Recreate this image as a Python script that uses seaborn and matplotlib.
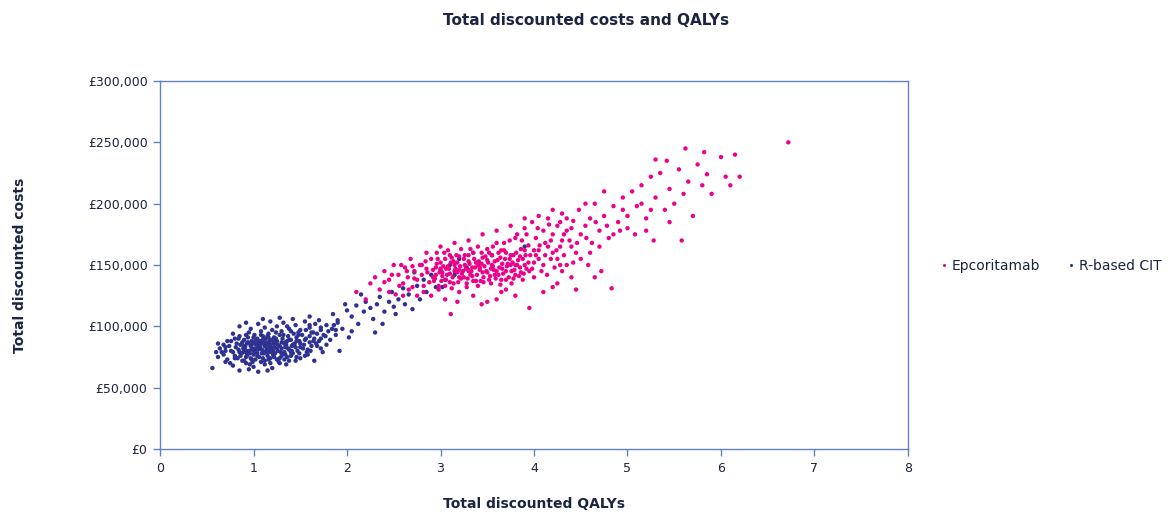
import pandas as pd
import seaborn as sns
import matplotlib.pyplot as plt
from matplotlib.ticker import FuncFormatter

sns.set_theme(style="white")
plt.rcParams['font.family'] = ['DejaVu Sans']

# Values: QALYs and costs (GBP thousands)
rcit_qaly = [
    0.56, 0.78, 0.85, 0.92, 1.00, 1.05, 1.12, 1.20, 1.28, 0.88, 1.35, 0.95, 1.45, 0.70, 1.15,
    0.62, 0.68, 0.72, 0.80, 0.83, 0.87, 0.90, 0.93, 0.97, 1.00, 1.02, 1.06, 1.09, 1.12, 1.15,
    1.18, 1.21, 1.25, 1.30, 1.36, 1.42, 1.50, 1.58, 1.65, 0.75, 0.99, 1.08, 1.27, 1.33, 0.60,
    0.64, 0.70, 0.74, 0.78, 0.81, 0.84, 0.86, 0.89, 0.91, 0.93, 0.95, 0.97, 0.99, 1.01, 1.03,
    1.05, 1.07, 1.09, 1.10, 1.12, 1.14, 1.16, 1.18, 1.20, 1.22, 1.24, 1.26, 1.28, 1.30, 1.33,
    1.35, 1.38, 1.41, 1.44, 1.47, 1.50, 1.54, 1.58, 1.62, 1.67, 1.72, 1.78, 0.88, 1.00, 1.13,
    0.96, 1.04, 1.11, 1.19, 1.23, 1.32, 1.40, 0.82, 0.68, 1.06, 1.16, 1.21, 0.92, 1.02, 1.17,
    0.72, 0.80, 0.85, 0.90, 0.94, 0.98, 1.01, 1.04, 1.07, 1.10, 1.13, 1.16, 1.19, 1.22, 1.25,
    1.28, 1.31, 1.34, 1.37, 1.40, 1.43, 1.46, 1.49, 1.52, 1.56, 1.60, 1.64, 1.68, 1.72, 1.77,
    1.82, 1.88, 0.78, 0.95, 1.08, 1.20, 1.30, 1.06, 1.24, 1.36, 1.15,
    0.85, 0.97, 1.05, 1.12, 1.18, 1.25, 1.32, 1.38, 1.45, 1.50, 1.55, 1.60, 1.66, 1.72, 1.78,
    1.84, 1.90, 1.42, 1.28, 1.60, 1.10, 0.92, 1.70, 1.48, 1.62,
    0.90, 0.94, 0.98, 1.02, 1.06, 1.10, 1.14, 1.18, 1.22, 1.26, 1.30, 1.34, 1.38, 1.42, 1.46,
    1.50, 1.55, 1.60, 1.65, 1.70, 0.85, 0.89, 0.93, 0.97, 1.01, 1.05, 1.09, 1.13, 1.17, 1.21,
    1.25, 1.29, 1.33, 1.37, 1.41, 1.45, 1.49, 1.53, 1.57, 1.61, 0.80, 0.86, 0.92, 0.98, 1.04,
    1.10, 1.16, 1.22, 1.28, 1.34, 1.40, 1.46, 0.76, 0.70, 0.66, 0.62, 0.76, 0.84, 0.92, 1.00,
    1.08, 1.16, 1.24, 1.32, 1.40, 1.48, 1.56, 1.64, 1.72, 1.80, 1.86, 1.75, 1.68, 1.74, 1.55,
    1.38, 1.18, 0.96, 1.60, 1.36,
    1.85, 1.90, 1.95, 2.00, 2.05, 2.10, 2.12, 2.18, 2.20, 2.25, 2.28, 2.32, 2.35, 2.40, 2.45,
    2.48, 2.50, 2.55, 2.60, 2.62, 2.66, 2.70, 2.75, 2.78, 2.82, 2.85, 2.90, 2.95, 3.00, 3.05,
    3.10, 3.15, 3.20, 3.28, 3.35, 3.40, 3.55, 3.90, 2.05, 1.98, 2.15, 2.38, 2.52, 2.72, 3.02,
    1.88, 2.30, 1.92, 2.02,
]
rcit_cost = [
    66, 68, 64, 70, 67, 63, 69, 66, 70, 72, 69, 65, 72, 71, 64,
    75, 77, 73, 76, 74, 78, 72, 76, 74, 77, 73, 75, 78, 72, 76,
    74, 77, 73, 76, 75, 78, 74, 77, 72, 70, 71, 71, 71, 73, 79,
    82, 80, 84, 79, 83, 81, 85, 79, 83, 86, 80, 84, 82, 79, 85,
    81, 83, 86, 80, 84, 82, 79, 85, 81, 83, 86, 80, 84, 82, 79,
    85, 81, 84, 86, 80, 83, 85, 81, 84, 86, 82, 85, 87, 86, 87,
    78, 78, 78, 79, 78, 78, 79, 86, 85, 84, 85, 86, 80, 82, 81,
    88, 90, 92, 89, 91, 88, 93, 90, 88, 92, 90, 94, 89, 91, 88,
    93, 90, 87, 92, 89, 94, 91, 88, 93, 90, 92, 88, 94, 90, 92,
    89, 93, 94, 95, 96, 97, 96, 87, 90, 88, 92,
    100, 98, 102, 99, 104, 100, 103, 98, 101, 97, 104, 99, 102, 97, 101,
    98, 103, 106, 107, 108, 106, 103, 105, 95, 95,
    84, 87, 81, 88, 83, 89, 86, 83, 88, 85, 87, 83, 89, 85, 88,
    86, 89, 87, 90, 88, 79, 82, 78, 85, 80, 86, 81, 79, 88, 80,
    82, 79, 86, 82, 80, 83, 78, 82, 79, 80, 74, 76, 75, 73, 76,
    74, 73, 75, 74, 77, 76, 75, 80, 83, 79, 86, 88, 90, 93, 91,
    93, 91, 95, 93, 96, 93, 97, 95, 99, 96, 101, 93, 84, 79, 76,
    72, 70, 69, 101, 100,
    110, 105, 98, 113, 108, 117, 102, 112, 120, 115, 106, 118, 124, 112, 120,
    128, 116, 122, 131, 118, 126, 114, 133, 122, 138, 128, 142, 132, 146, 138,
    150, 142, 155, 148, 160, 152, 158, 165, 96, 118, 126, 102, 110, 144, 132,
    97, 95, 80, 91,
]

epco_qaly = [
    2.10, 2.20, 2.25, 2.30, 2.35, 2.40, 2.45, 2.50, 2.52, 2.55, 2.60, 2.62, 2.65, 2.68, 2.70,
    2.72, 2.75, 2.78, 2.80, 2.82, 2.85, 2.88, 2.90, 2.92, 2.95, 2.98, 3.00, 3.02, 3.04, 3.06,
    3.08, 3.10, 3.11, 3.12, 3.14, 3.16, 3.18, 3.20, 3.22, 3.24, 3.26, 3.28, 3.30, 3.32, 3.34,
    3.36, 3.38, 3.40, 3.42, 3.44, 3.46, 3.48, 3.50, 3.52, 3.54, 3.56, 3.58, 3.60, 3.62, 3.64,
    3.66, 3.68, 3.70, 3.72, 3.74, 3.76, 3.78, 3.80, 3.82, 3.84, 3.86, 3.88, 3.90, 3.92, 3.94,
    3.96, 3.98, 4.00, 4.02, 4.05, 4.08, 4.10, 4.12, 4.15, 4.18, 4.20, 4.22, 4.25, 4.28, 4.30,
    4.32, 4.35, 4.38, 4.40, 4.42, 4.45, 4.48, 4.50, 4.55, 4.58, 4.60, 4.62, 4.65, 4.70, 4.72,
    4.75, 4.80, 4.83, 4.85, 4.90, 4.95, 5.00, 5.05, 5.08, 5.10, 5.15, 5.20, 5.25, 5.28, 5.30,
    5.35, 5.40, 5.42, 5.45, 5.50, 5.55, 5.60, 5.62, 5.65, 5.70, 5.75, 5.80, 5.85, 5.90, 6.00,
    6.05, 6.10, 6.15, 6.20, 6.72, 5.82, 5.58, 5.30,
    2.92, 2.94, 2.96, 2.99, 3.01, 3.03, 3.05, 3.07, 3.09, 3.11, 3.13, 3.15, 3.17, 3.19, 3.21,
    3.23, 3.25, 3.27, 3.29, 3.31, 3.33, 3.35, 3.37, 3.39, 3.41, 3.43, 3.45, 3.47, 3.49, 3.51,
    3.53, 3.55, 3.57, 3.59, 3.61, 3.63, 3.65, 3.67, 3.69, 3.71, 3.73, 3.75, 3.77, 3.79, 3.81,
    3.83, 3.85, 3.87, 3.89, 3.91,
    2.95, 3.00, 3.05, 3.10, 3.15, 3.20, 3.25, 3.30, 3.35, 3.40, 3.45, 3.50, 3.55, 3.60, 3.65,
    3.70, 3.75, 3.80, 3.85, 3.90, 3.95, 4.00, 4.05, 4.10, 4.15, 4.20, 4.25, 4.30, 4.35, 4.40,
    2.60, 2.75, 2.90, 3.05, 3.20, 3.35, 3.50, 3.65, 3.80, 3.95, 4.10, 4.25, 4.45, 4.65, 2.45,
    2.85, 3.00, 3.15, 3.30, 3.45, 3.60, 3.75, 3.90, 4.05, 4.20, 4.35, 4.55, 4.75, 4.95, 5.15,
    5.45, 5.25, 4.85, 4.60, 4.50, 4.30, 4.40, 4.70, 5.00, 5.20,
    2.40, 2.48, 2.56, 2.64, 2.72, 2.80, 2.86, 2.93, 2.97, 3.02, 3.06, 3.10, 3.14, 3.18, 3.22,
    3.26, 3.30, 3.34, 3.38, 3.42, 3.46, 3.50, 3.54, 3.58, 3.62, 3.66, 3.70, 3.74, 3.78, 3.82,
    3.86, 3.90, 3.94, 3.98, 4.02, 4.06, 4.12, 4.18, 4.24, 4.32, 2.58, 2.70, 2.84, 2.96, 3.08,
    3.20, 3.32, 3.44, 3.56, 3.68, 3.80, 3.92, 4.04, 4.16, 4.28, 4.46, 4.56, 4.66, 4.78, 4.92,
    2.66, 2.82, 2.98, 3.12, 3.28, 3.40, 3.52, 3.64, 3.76, 3.88, 4.00, 4.14, 4.28, 4.42, 3.18,
    3.44, 3.70, 3.60, 4.20, 3.30,
]
epco_cost = [
    128, 122, 135, 140, 130, 145, 138, 150, 126, 142, 135, 148, 140, 155, 132,
    145, 138, 150, 142, 128, 147, 136, 155, 140, 148, 133, 152, 144, 160, 138,
    149, 143, 110, 156, 135, 147, 152, 140, 163, 145, 150, 132, 158, 142, 148,
    155, 137, 165, 146, 151, 140, 157, 144, 160, 135, 149, 153, 168, 142, 156,
    147, 162, 138, 151, 170, 145, 158, 150, 175, 141, 163, 155, 180, 147, 166,
    158, 185, 152, 172, 162, 145, 178, 168, 188, 155, 175, 148, 182, 165, 192,
    158, 178, 170, 140, 186, 160, 195, 175, 182, 150, 188, 168, 200, 178, 145,
    190, 172, 131, 198, 185, 205, 190, 210, 175, 198, 215, 188, 222, 170, 205,
    225, 195, 235, 212, 200, 228, 208, 245, 218, 190, 232, 215, 224, 208, 238,
    222, 215, 240, 222, 250, 242, 170, 236,
    146, 139, 151, 144, 137, 149, 155, 142, 147, 152, 140, 145, 158, 136, 149,
    143, 155, 147, 139, 151, 145, 160, 148, 142, 153, 137, 156, 149, 145, 152,
    141, 158, 146, 139, 154, 148, 162, 143, 155, 149, 140, 158, 152, 146, 160,
    154, 148, 170, 143, 158,
    142, 147, 133, 158, 150, 146, 140, 153, 137, 150, 144, 163, 150, 145, 138,
    160, 150, 142, 157, 150, 145, 162, 155, 150, 165, 160, 155, 170, 150, 165,
    125, 125, 125, 122, 128, 125, 120, 128, 125, 115, 128, 135, 130, 140, 128,
    160, 165, 168, 170, 175, 178, 182, 188, 190, 195, 188, 200, 210, 195, 200,
    185, 195, 175, 160, 155, 145, 180, 165, 180, 178,
    136, 142, 133, 145, 139, 150, 144, 137, 155, 141, 147, 136, 153, 144, 139,
    158, 146, 141, 152, 148, 136, 154, 147, 142, 160, 151, 145, 155, 139, 150,
    144, 162, 152, 147, 158, 166, 158, 170, 162, 175, 150, 149, 153, 160, 162,
    157, 163, 160, 165, 168, 172, 175, 180, 183, 185, 168, 172, 185, 182, 178,
    130, 133, 130, 131, 135, 133, 138, 134, 135, 138, 140, 142, 150, 152, 120,
    118, 130, 122, 132, 145,
]

arm_names = ['Epcoritamab', 'R-based CIT']
arm_colors = {'Epcoritamab': '#EC008C', 'R-based CIT': '#2E3192'}

df = pd.concat([
    pd.DataFrame({'QALYs': rcit_qaly, 'Costs': [c * 1000 for c in rcit_cost], 'Arm': 'R-based CIT'}),
    pd.DataFrame({'QALYs': epco_qaly, 'Costs': [c * 1000 for c in epco_cost], 'Arm': 'Epcoritamab'}),
], ignore_index=True)

text_col = '#1B2440'
axis_col = '#6283BE'

fig = plt.figure(figsize=(11.69, 5.16), dpi=100)
ax = fig.add_axes([0.1369, 0.1298, 0.6398, 0.7132])

sns.scatterplot(data=df, x='QALYs', y='Costs', hue='Arm', hue_order=arm_names,
                palette=arm_colors, s=10, linewidth=0, ax=ax)

ax.set_xlim(0, 8)
ax.set_ylim(0, 300000)
ax.set_xticks(range(0, 9))
ax.set_yticks(range(0, 300001, 50000))
ax.yaxis.set_major_formatter(FuncFormatter(lambda v, p: '£{:,.0f}'.format(v)))

for sp in ax.spines.values():
    sp.set_visible(True)
    sp.set_color(axis_col)
    sp.set_linewidth(1.0)
ax.tick_params(axis='both', direction='out', length=5, width=1, color=axis_col,
               labelcolor=text_col, labelsize=9, pad=4)
ax.tick_params(axis='x', bottom=True)
ax.tick_params(axis='y', left=True)

ax.set_xlabel('Total discounted QALYs', fontsize=10, fontweight='bold', color=text_col, labelpad=16)
ax.set_ylabel('Total discounted costs', fontsize=10, fontweight='bold', color=text_col)
ax.yaxis.set_label_coords(-0.178, 0.5)
fig.suptitle('Total discounted costs and QALYs', x=0.501, y=0.975, fontsize=11,
             fontweight='bold', color=text_col)

sns.move_legend(ax, 'center left', bbox_to_anchor=(1.02, 0.497), ncol=2, frameon=False,
                title=None, fontsize=10, markerscale=0.7, handletextpad=0.0,
                handlelength=1.2, columnspacing=1.6)
for t in ax.get_legend().get_texts():
    t.set_color(text_col)

fig.savefig('out.png', dpi=100)
